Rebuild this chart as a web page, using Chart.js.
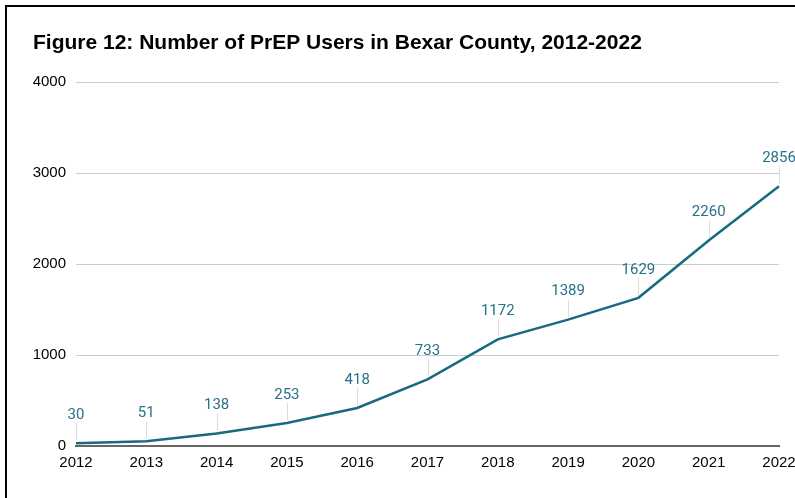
<!DOCTYPE html>
<html>
<head>
<meta charset="utf-8">
<script src="https://cdn.jsdelivr.net/npm/chart.js@4"></script>
<style>
    html, body { margin: 0; padding: 0; background: #fff; overflow: hidden; }
    #frame {
        position: absolute;
        left: 5px;
        top: 5px;
        width: 900px;
        height: 700px;
        border: 2px solid #000;
    }
    #wrap { position: absolute; left: 0; top: 0; width: 795px; height: 498px; }
</style>
</head>
<body>
<div id="frame"></div>
<div id="wrap"><canvas id="prepChart" width="795" height="498"></canvas></div>
<script>
// PrEP users per year, Bexar County
const years = ['2012', '2013', '2014', '2015', '2016', '2017', '2018', '2019', '2020', '2021', '2022'];
const prepUsers = [30, 51, 138, 253, 418, 733, 1172, 1389, 1629, 2260, 2856];
const yTicks = [0, 1000, 2000, 3000, 4000];

const lineColor = '#176a7f';
const labelColor = '#27718a';

// Value labels above each point with a thin leader line
const valueLabels = {
    id: 'valueLabels',
    beforeDatasetsDraw(chart) {
        const ctx = chart.ctx;
        const meta = chart.getDatasetMeta(0);
        ctx.save();
        ctx.strokeStyle = '#dcdcdc';
        ctx.lineWidth = 1;
        meta.data.forEach(pt => {
            const x = Math.round(pt.x) + 0.5;
            ctx.beginPath();
            ctx.moveTo(x, pt.y - 3);
            ctx.lineTo(x, pt.y - 20);
            ctx.stroke();
        });
        ctx.restore();
    },
    afterDatasetsDraw(chart) {
        const ctx = chart.ctx;
        const meta = chart.getDatasetMeta(0);
        const values = chart.data.datasets[0].data;
        ctx.save();
        ctx.font = '15px Roboto';
        ctx.fillStyle = labelColor;
        ctx.textAlign = 'center';
        ctx.textBaseline = 'middle';
        meta.data.forEach((pt, i) => {
            ctx.fillText(String(values[i]), pt.x, pt.y - 28);
        });
        ctx.restore();
    }
};

const ctx = document.getElementById('prepChart').getContext('2d');
const chart = new Chart(ctx, {
    type: 'line',
    data: {
        labels: years,
        datasets: [{
            data: prepUsers,
            borderColor: lineColor,
            borderWidth: 2.5,
            pointRadius: 0,
            tension: 0,
            fill: false
        }]
    },
    options: {
        responsive: false,
        animation: false,
        devicePixelRatio: 1,
        layout: {
            autoPadding: false,
            padding: { left: 33, right: 16, top: 0, bottom: 0 }
        },
        plugins: {
            legend: { display: false },
            tooltip: { enabled: false },
            title: {
                display: true,
                text: 'Figure 12: Number of PrEP Users in Bexar County, 2012-2022',
                align: 'start',
                color: '#000',
                font: { family: 'Liberation Sans', size: 21, weight: 'bold', lineHeight: 1.2 },
                padding: { top: 31, bottom: 26 }
            }
        },
        scales: {
            x: {
                offset: false,
                grid: { display: false, drawTicks: false },
                border: { display: true, color: '#666', width: 2 },
                ticks: {
                    color: '#000',
                    padding: 8,
                    maxRotation: 0,
                    autoSkip: false,
                    font: { family: 'Liberation Sans', size: 15 }
                },
                afterFit(scale) {
                    // let the last year label run past the edge
                    scale.height = 52;
                    scale.paddingLeft = 0;
                    scale.paddingRight = 0;
                }
            },
            y: {
                min: 0,
                max: 4000,
                afterBuildTicks(scale) {
                    scale.ticks = yTicks.map(v => ({ value: v }));
                },
                grid: { color: '#cccccc', lineWidth: 1, drawTicks: false },
                border: { display: false },
                ticks: {
                    color: '#000',
                    padding: 10,
                    font: { family: 'Liberation Sans', size: 15 },
                    callback: v => String(v)
                },
                afterFit(scale) { scale.width = 43; }
            }
        }
    },
    plugins: [valueLabels]
});
</script>
</body>
</html>
